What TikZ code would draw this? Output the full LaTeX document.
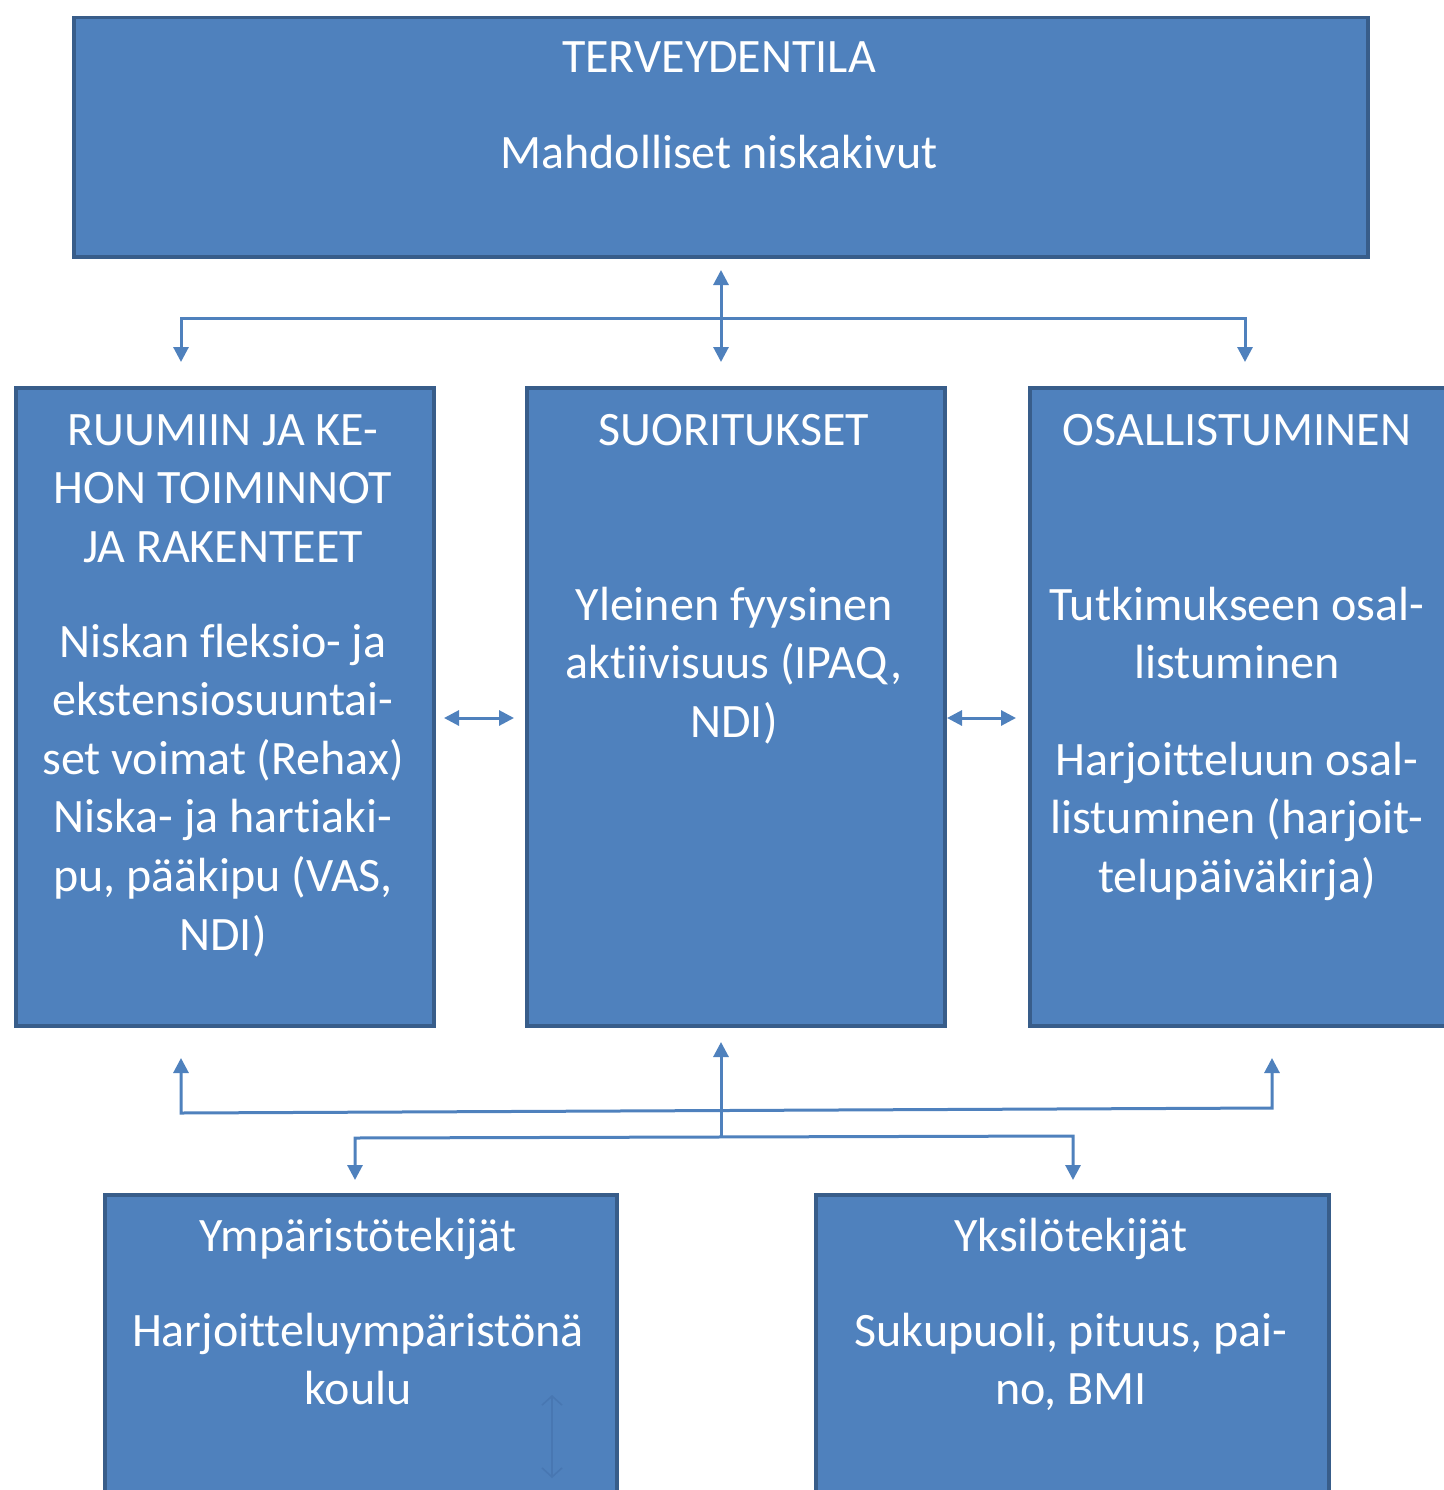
\documentclass[tikz,border=0pt]{standalone}
\usepackage{fontspec}
\setmainfont{Carlito}[Ligatures={NoCommon,NoContextual}]
\usetikzlibrary{arrows.meta}
\definecolor{boxfill}{HTML}{4F81BD}
\definecolor{boxline}{HTML}{385D8A}
\definecolor{connline}{HTML}{4F81BD}
\definecolor{faintline}{HTML}{4877B2}
\tikzset{
  box/.style={draw=boxline, line width=3.5pt, fill=boxfill, anchor=north west, inner sep=0pt},
  txt/.style={text=white, align=center, anchor=base, inner sep=0pt,
    font=\fontsize{48}{58.6}\selectfont},
  conn/.style={draw=connline, line width=3pt, line join=miter,
    arrows={-}, >={Triangle[width=15pt,length=15pt]}},
  faint/.style={draw=faintline, line width=1.6pt,
    >={Straight Barb[width=20pt,length=9pt,line width=1.6pt]}}
}
\begin{document}
\begin{tikzpicture}[x=1pt,y=-1pt]
\useasboundingbox (0,0) rectangle (1443,1490);
% boxes
\node[box, minimum width=1294pt, minimum height=239pt] (top) at (72,16) {};
\node[box, minimum width=418pt, minimum height=638pt] (left) at (14,386) {};
\node[box, minimum width=418pt, minimum height=638pt] (mid) at (525,386) {};
\node[box, minimum width=418pt, minimum height=638pt] (right) at (1028,386) {};
\node[box, minimum width=512pt, minimum height=320pt] (bl) at (103,1193) {};
\node[box, minimum width=513pt, minimum height=320pt] (br) at (814,1193) {};
% texts (anchor base = baseline of the last line)
\node[txt] (topT) at (719,73) {TERVEYDENTILA};
\node[txt] (topB) at (719,168) {Mahdolliset niskakivut};
\node[txt] (leftT) at (223,562.2) {RUUMIIN JA KE-\\HON TOIMINNOT\\JA RAKENTEET};
\node[txt] (leftB) at (223,950) {Niskan fleksio- ja\\ekstensiosuuntai-\\set voimat (Rehax)\\Niska- ja hartiaki-\\pu, pääkipu (VAS,\\NDI)};
\node[txt] (midT) at (734,445) {SUORITUKSET};
\node[txt] (midB) at (734,737.2) {Yleinen fyysinen\\aktiivisuus (IPAQ,\\NDI)};
\node[txt] (rightT) at (1237,445) {OSALLISTUMINEN};
\node[txt] (rightB1) at (1237,678.6) {Tutkimukseen osal-\\listuminen};
\node[txt] (rightB2) at (1237,892.2) {Harjoitteluun osal-\\listuminen (harjoit-\\telupäiväkirja)};
\node[txt] (blT) at (358,1251) {Ympäristötekijät};
\node[txt] (blB) at (358,1404.6) {Harjoitteluympäristönä\\koulu};
\node[txt] (brT) at (1071,1251) {Yksilötekijät};
\node[txt] (brB) at (1071,1404.6) {Sukupuoli, pituus, pai-\\no, BMI};
% coordinates for connectors
\coordinate (tUp) at (721,270);
\coordinate (tDn) at (721,362);
\coordinate (hL) at (181,318);
\coordinate (hR) at (1245,318);
\coordinate (aL) at (181,362);
\coordinate (aR) at (1245,362);
\coordinate (lmA) at (444,718);
\coordinate (lmB) at (514,718);
\coordinate (mrA) at (947,718);
\coordinate (mrB) at (1016,718);
\coordinate (bLtip) at (181,1058);
\coordinate (bLc) at (181,1113);
\coordinate (bRc) at (1272,1108);
\coordinate (bRtip) at (1272,1058);
\coordinate (bMbase) at (721,1137);
\coordinate (bMtip) at (721,1042);
\coordinate (dLtip) at (355,1180);
\coordinate (dLc) at (355,1138);
\coordinate (dRc) at (1073,1136);
\coordinate (dRtip) at (1073,1180);
\coordinate (fA) at (552,1395);
\coordinate (fB) at (552,1478);
% connectors
\draw[conn,<->] (tUp) -- (tDn);
\draw[conn,<->] (aL) -- (hL) -- (hR) -- (aR);
\draw[conn,<->] (lmA) -- (lmB);
\draw[conn,<->] (mrA) -- (mrB);
\draw[conn,<->] (bLtip) -- (bLc) -- (bRc) -- (bRtip);
\draw[conn,->] (bMbase) -- (bMtip);
\draw[conn,<->] (dLtip) -- (dLc) -- (dRc) -- (dRtip);
\draw[faint,<->] (fA) -- (fB);
\end{tikzpicture}
\end{document}
